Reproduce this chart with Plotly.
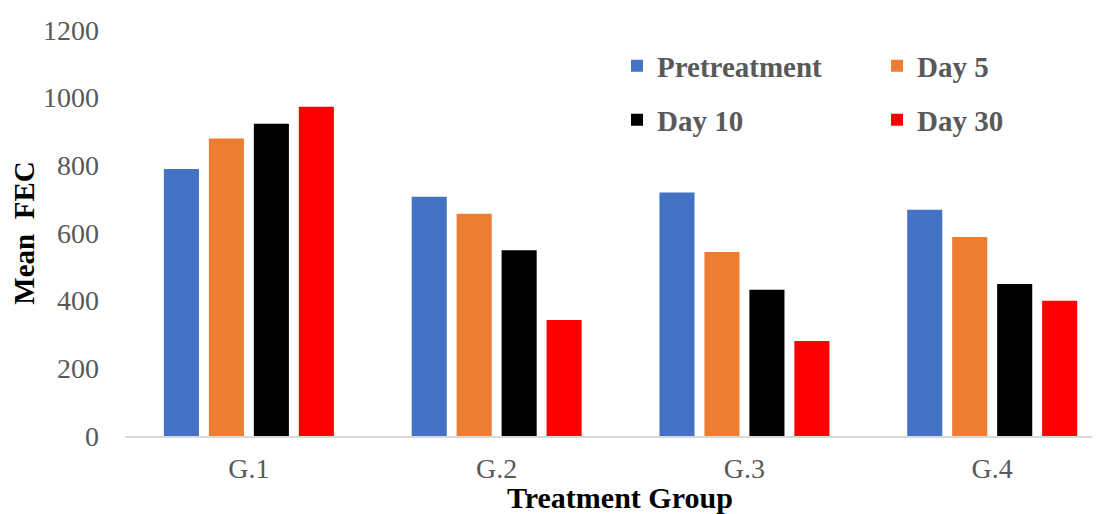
import plotly.graph_objects as go

groups = ["G.1", "G.2", "G.3", "G.4"]
series_names = ["Pretreatment", "Day 5", "Day 10", "Day 30"]
pretreatment = [789, 707, 720, 669]
day5 = [879, 657, 544, 588]
day10 = [923, 549, 432, 449]
day30 = [973, 343, 281, 400]
y_ticks = [0, 200, 400, 600, 800, 1000, 1200]

values = [pretreatment, day5, day10, day30]
colors = ["#4472C4", "#ED7D31", "#000000", "#FF0000"]
legend_ids = ["legend", "legend2", "legend3", "legend4"]

FONT = "Liberation Serif"
GRAY = "#595959"

fig = go.Figure()
for name, vals, col, lg in zip(series_names, values, colors, legend_ids):
    fig.add_trace(go.Bar(x=groups, y=vals, name=name, marker_color=col,
                         marker_line_width=0, legend=lg))

legend_common = dict(orientation="h", xanchor="left", yanchor="middle",
                     font=dict(family=FONT, size=29, color=GRAY, weight="bold"),
                     bgcolor="rgba(0,0,0,0)", itemclick=False)

# page body has an 8px margin; positions below are in page pixels
OFF = 8
L, W, T, H = 125 - OFF, 975, 30 - OFF, 406
FW, FH = 1100, 514
def lx(px):
    return (px - OFF - L) / W
def ly(py):
    return (T + H - (py - OFF)) / H

fig.update_layout(
    width=FW, height=FH,
    margin=dict(l=L, r=FW - L - W, t=T, b=FH - T - H, autoexpand=False),
    plot_bgcolor="white", paper_bgcolor="white",
    barmode="group", bargap=0.274, bargroupgap=0.22,
    font=dict(family=FONT, color=GRAY),
    showlegend=True,
    legend=dict(x=lx(617), y=ly(66), **legend_common),
    legend2=dict(x=lx(877), y=ly(66), **legend_common),
    legend3=dict(x=lx(617), y=ly(120), **legend_common),
    legend4=dict(x=lx(877), y=ly(120), **legend_common),
    xaxis=dict(range=[-0.5, 3.435], showline=True, linecolor="#d9d9d9", linewidth=1.5,
               showgrid=False, ticks="", automargin=False, ticklabelstandoff=7,
               tickfont=dict(family=FONT, size=28, color=GRAY)),
    yaxis=dict(range=[0, 1200], tickvals=y_ticks, showgrid=False, zeroline=False, showline=False,
               ticks="", automargin=False, tickfont=dict(family=FONT, size=28, color=GRAY),
               ticklabelstandoff=25,
               title=dict(text="Mean  FEC", font=dict(family=FONT, size=29, color="black", weight="bold"),
                          standoff=0)),
    annotations=[dict(text="Treatment Group", xref="paper", yref="paper",
                      x=lx(620), y=ly(498), xanchor="center", yanchor="middle",
                      showarrow=False,
                      font=dict(family=FONT, size=30, color="black", weight="bold"))],
)

fig.write_html("out.html")
